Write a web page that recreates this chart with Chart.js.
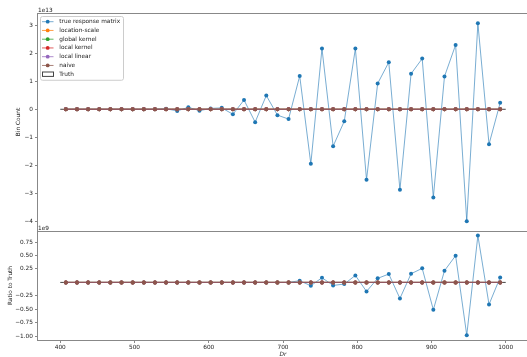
<!DOCTYPE html>
<html>
<head>
<meta charset="utf-8">
<script src="https://cdn.jsdelivr.net/npm/chart.js@4.4.0/dist/chart.umd.min.js"></script>
<style>
  html, body { margin: 0; padding: 0; background: #fff; overflow: hidden; }
  #wrap { position: relative; width: 527px; height: 357px; overflow: hidden; }
  #top_canvas { position: absolute; left: 0; top: 0; }
  #bottom_canvas { position: absolute; left: 0; top: 220px; }
</style>
</head>
<body>
<div id="wrap">
  <canvas id="top_canvas" width="540" height="240"></canvas>
  <canvas id="bottom_canvas" width="540" height="137"></canvas>
</div>
<script>
// bins of Dr (centers) and the outer edges of the truth histogram
const bin_centers = [407.5, 422.5, 437.5, 452.5, 467.5, 482.5, 497.5, 512.5, 527.5, 542.5,
                     557.5, 572.5, 587.5, 602.5, 617.5, 632.5, 647.5, 662.5, 677.5, 692.5,
                     707.5, 722.5, 737.5, 752.5, 767.5, 782.5, 797.5, 812.5, 827.5, 842.5,
                     857.5, 872.5, 887.5, 902.5, 917.5, 932.5, 947.5, 962.5, 977.5, 992.5];
const bin_range = [400, 1000];

const series_names = ['true response matrix', 'location-scale', 'global kernel', 'local kernel', 'local linear', 'naive'];
const series_colors = ['#1f77b4', '#ff7f0e', '#2ca02c', '#d62728', '#9467bd', '#8c564b'];

// top panel, bin counts in units of 1e13
const true_response_counts = [0, 0, 0, 0, 0, 0, 0, 0, 0, 0.02,
                              -0.06, 0.07, -0.05, 0.03, 0.05, -0.18, 0.33, -0.46, 0.49, -0.21,
                              -0.35, 1.19, -1.95, 2.17, -1.32, -0.43, 2.17, -2.52, 0.92, 1.68,
                              -2.88, 1.27, 1.81, -3.15, 1.17, 2.30, -4.00, 3.07, -1.25, 0.23];
// truth and the unfolding methods are flat at 0 on the 1e13 scale
const flat_counts = [0, 0, 0, 0, 0, 0, 0, 0, 0, 0,
                     0, 0, 0, 0, 0, 0, 0, 0, 0, 0,
                     0, 0, 0, 0, 0, 0, 0, 0, 0, 0,
                     0, 0, 0, 0, 0, 0, 0, 0, 0, 0];

// bottom panel, ratio to truth in units of 1e9
const true_response_ratio = [0, 0, 0, 0, 0, 0, 0, 0, 0, 0,
                             0, 0, 0, 0, 0, 0, 0, 0, 0, 0,
                             0, 0.031, -0.062, 0.087, -0.056, -0.031, 0.13, -0.168, 0.075, 0.155,
                             -0.298, 0.161, 0.261, -0.509, 0.217, 0.497, -0.981, 0.87, -0.41, 0.093];
const flat_ratio = [1, 1, 1, 1, 1, 1, 1, 1, 1, 1,
                    1, 1, 1, 1, 1, 1, 1, 1, 1, 1,
                    1, 1, 1, 1, 1, 1, 1, 1, 1, 1,
                    1, 1, 1, 1, 1, 1, 1, 1, 1, 1];
const ratio_unit = 1e9;

const x_min = 370, x_max = 1030;
const top_y = [-4.35, 3.44];
const bottom_y = [-1.07, 0.955];

Chart.defaults.font.family = '"DejaVu Sans", sans-serif';
Chart.defaults.font.size = 5.8;
Chart.defaults.color = '#222';

const text_color = '#222';
const spine_color = '#888';

function pts(ys) {
  return bin_centers.map((x, i) => ({x: x, y: ys[i]}));
}
function step_pts(ys) {
  return [{x: bin_range[0], y: ys[0]}].concat(pts(ys), [{x: bin_range[1], y: ys[ys.length - 1]}]);
}
function hex_alpha(hex, a) {
  const n = parseInt(hex.slice(1), 16);
  return 'rgba(' + (n >> 16) + ',' + ((n >> 8) & 255) + ',' + (n & 255) + ',' + a + ')';
}

function make_datasets(true_vals, model_vals, truth_vals) {
  const ds = [{
    label: 'Truth',
    is_truth: true,
    data: step_pts(truth_vals),
    stepped: 'middle',
    borderColor: '#444',
    borderWidth: 1,
    pointRadius: 0,
    order: 10
  }];
  series_names.forEach((name, i) => {
    ds.push({
      label: name,
      data: pts(i === 0 ? true_vals : model_vals),
      borderColor: hex_alpha(series_colors[i], i === 0 ? 0.6 : 0.75),
      borderWidth: 1,
      pointRadius: 2,
      pointBorderWidth: 0,
      pointBackgroundColor: series_colors[i],
      order: 6 - i
    });
  });
  return ds;
}

const frame_plugin = {
  id: 'frame',
  afterDraw(chart, args, opts) {
    const ctx = chart.ctx, a = chart.chartArea;
    ctx.save();
    ctx.strokeStyle = spine_color;
    ctx.lineWidth = 1;
    ctx.strokeRect(a.left - 0.5, a.top + 0.5, a.right - a.left, a.bottom - a.top);
    ctx.fillStyle = text_color;
    ctx.font = '5.8px "DejaVu Sans"';
    ctx.textBaseline = 'alphabetic';
    ctx.textAlign = 'left';
    ctx.fillText(opts.offset_text, a.left, a.top - 1.5);
    ctx.restore();
  }
};

const legend_plugin = {
  id: 'box_legend',
  afterDraw(chart) {
    const ctx = chart.ctx;
    const items = chart.data.datasets.filter(d => !d.is_truth).concat(chart.data.datasets.filter(d => d.is_truth));
    const x0 = 40, y0 = 16, w = 83, row = 8.75;
    ctx.save();
    ctx.fillStyle = 'rgba(255,255,255,0.8)';
    ctx.strokeStyle = '#ccc';
    ctx.lineWidth = 1;
    ctx.beginPath();
    ctx.roundRect(x0 + 0.5, y0 + 0.5, w, row * items.length + 2.5, 2);
    ctx.fill();
    ctx.stroke();
    ctx.font = '5.8px "DejaVu Sans"';
    ctx.textBaseline = 'middle';
    ctx.textAlign = 'left';
    items.forEach((d, i) => {
      const cy = y0 + 5.7 + i * row;
      if (d.is_truth) {
        ctx.fillStyle = '#fff';
        ctx.strokeStyle = '#444';
        ctx.fillRect(42.5, cy - 2.2, 11, 4.4);
        ctx.strokeRect(42.5, cy - 2.2, 11, 4.4);
      } else {
        ctx.strokeStyle = d.borderColor;
        ctx.beginPath();
        ctx.moveTo(42, cy);
        ctx.lineTo(53.5, cy);
        ctx.stroke();
        ctx.fillStyle = d.pointBackgroundColor;
        ctx.beginPath();
        ctx.arc(47.7, cy, 1.9, 0, Math.PI * 2);
        ctx.fill();
      }
      ctx.fillStyle = text_color;
      ctx.fillText(d.label, 59.3, cy);
    });
    ctx.restore();
  }
};

function minus_fmt(v, digits) {
  const s = Math.abs(v).toFixed(digits);
  return (v < 0 ? '\u2212' : '') + s;
}

const tick_grid = { drawOnChartArea: false, drawTicks: true, tickLength: 3, color: spine_color };

const top_chart = new Chart(document.getElementById('top_canvas'), {
  type: 'line',
  data: { datasets: make_datasets(true_response_counts, flat_counts, flat_counts) },
  options: {
    responsive: false,
    animation: false,
    layout: { padding: { top: 13, right: 12, bottom: 9, left: 0 } },
    plugins: { legend: { display: false }, tooltip: { enabled: false }, frame: { offset_text: '1e13' } },
    scales: {
      x: { type: 'linear', display: false, min: x_min, max: x_max },
      y: {
        min: top_y[0], max: top_y[1],
        ticks: { stepSize: 1, includeBounds: false, padding: 2, color: text_color, callback: v => minus_fmt(v, 0) },
        grid: tick_grid,
        border: { display: false },
        title: { display: true, text: 'Bin Count', color: text_color, padding: { top: 15 } },
        afterFit: a => { a.width = 38; }
      }
    }
  },
  plugins: [frame_plugin, legend_plugin]
});

const bottom_chart = new Chart(document.getElementById('bottom_canvas'), {
  type: 'line',
  data: {
    datasets: make_datasets(true_response_ratio,
                            flat_ratio.map(v => v / ratio_unit),
                            flat_ratio.map(v => v / ratio_unit))
  },
  options: {
    responsive: false,
    animation: false,
    layout: { padding: { top: 11, right: 12, bottom: 0, left: 0 } },
    plugins: { legend: { display: false }, tooltip: { enabled: false }, frame: { offset_text: '1e9' } },
    scales: {
      x: {
        type: 'linear', min: x_min, max: x_max,
        ticks: { stepSize: 100, includeBounds: false, padding: 1.5, color: text_color, callback: v => String(v) },
        grid: tick_grid,
        border: { display: false },
        title: { display: true, text: 'Dr', color: text_color, padding: 0, font: { style: 'italic', lineHeight: 1 } },
        afterFit: a => { a.height = 17; }
      },
      y: {
        min: bottom_y[0], max: bottom_y[1],
        ticks: { stepSize: 0.25, includeBounds: false, padding: 2, color: text_color, callback: v => minus_fmt(v, 2) },
        afterBuildTicks: a => { a.ticks = a.ticks.filter(t => Math.abs(t.value) > 1e-6); },
        grid: tick_grid,
        border: { display: false },
        title: { display: true, text: 'Ratio to Truth', color: text_color, padding: { top: 7 } },
        afterFit: a => { a.width = 38; }
      }
    }
  },
  plugins: [frame_plugin]
});
</script>
</body>
</html>
